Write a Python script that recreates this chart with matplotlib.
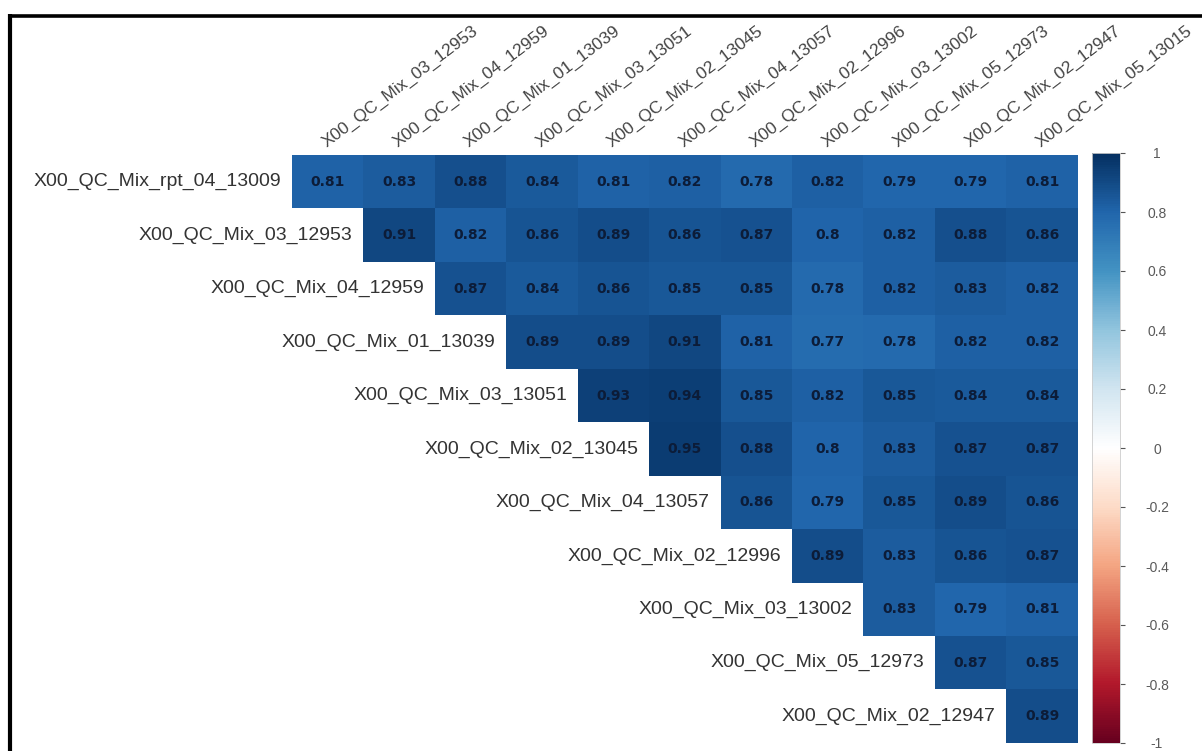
import numpy as np
import matplotlib.pyplot as plt
from matplotlib.colors import LinearSegmentedColormap
from matplotlib.lines import Line2D
from matplotlib.ticker import FuncFormatter

# sample names (rows top to bottom, columns left to right)
row_labels = [
    "X00_QC_Mix_rpt_04_13009", "X00_QC_Mix_03_12953", "X00_QC_Mix_04_12959",
    "X00_QC_Mix_01_13039", "X00_QC_Mix_03_13051", "X00_QC_Mix_02_13045",
    "X00_QC_Mix_04_13057", "X00_QC_Mix_02_12996", "X00_QC_Mix_03_13002",
    "X00_QC_Mix_05_12973", "X00_QC_Mix_02_12947",
]
col_labels = [
    "X00_QC_Mix_03_12953", "X00_QC_Mix_04_12959", "X00_QC_Mix_01_13039",
    "X00_QC_Mix_03_13051", "X00_QC_Mix_02_13045", "X00_QC_Mix_04_13057",
    "X00_QC_Mix_02_12996", "X00_QC_Mix_03_13002", "X00_QC_Mix_05_12973",
    "X00_QC_Mix_02_12947", "X00_QC_Mix_05_13015",
]

# upper triangle, row by row (each row starts on its own diagonal column)
r_rpt04_13009 = [0.81, 0.83, 0.88, 0.84, 0.81, 0.82, 0.78, 0.82, 0.79, 0.79, 0.81]
r_03_12953 = [0.91, 0.82, 0.86, 0.89, 0.86, 0.87, 0.80, 0.82, 0.88, 0.86]
r_04_12959 = [0.87, 0.84, 0.86, 0.85, 0.85, 0.78, 0.82, 0.83, 0.82]
r_01_13039 = [0.89, 0.89, 0.91, 0.81, 0.77, 0.78, 0.82, 0.82]
r_03_13051 = [0.93, 0.94, 0.85, 0.82, 0.85, 0.84, 0.84]
r_02_13045 = [0.95, 0.88, 0.80, 0.83, 0.87, 0.87]
r_04_13057 = [0.86, 0.79, 0.85, 0.89, 0.86]
r_02_12996 = [0.89, 0.83, 0.86, 0.87]
r_03_13002 = [0.83, 0.79, 0.81]
r_05_12973 = [0.87, 0.85]
r_02_12947 = [0.89]

cbar_ticks = [1, 0.8, 0.6, 0.4, 0.2, 0, -0.2, -0.4, -0.6, -0.8, -1]

rows = [r_rpt04_13009, r_03_12953, r_04_12959, r_01_13039, r_03_13051,
        r_02_13045, r_04_13057, r_02_12996, r_03_13002, r_05_12973, r_02_12947]

n = len(col_labels)
mat = np.full((len(rows), n), np.nan)
for i, vals in enumerate(rows):
    mat[i, i:i + len(vals)] = vals

# corrplot-style red-white-blue palette
cmap = LinearSegmentedColormap.from_list("col2", [
    "#67001F", "#B2182B", "#D6604D", "#F4A582", "#FDDBC7", "#FFFFFF",
    "#D1E5F0", "#92C5DE", "#4393C3", "#2166AC", "#053061"])

W, H = 1202, 751
fig = plt.figure(figsize=(W / 100, H / 100), dpi=100)

ax = fig.add_axes([292 / W, 8 / H, 786 / W, 588 / H])
im = ax.imshow(mat, cmap=cmap, vmin=-1, vmax=1, aspect='auto', interpolation='nearest')
ax.set_xlim(-0.5, n - 0.5)
ax.set_ylim(len(rows) - 0.5, -0.5)
ax.axis('off')

fam = ['Liberation Sans', 'DejaVu Sans']

for i, lab in enumerate(row_labels):
    ax.text(i - 0.5 - 0.15, i, lab, ha='right', va='center', color='#333333',
            family=fam, fontsize=14)
    for j in range(i, n):
        v = mat[i, j]
        ax.text(j, i, f"{v:g}", ha='center', va='center', color='#0c1c38',
                fontsize=10, fontweight='bold', family='DejaVu Sans')

for j, lab in enumerate(col_labels):
    ax.text(j - 0.02, -0.5 - 0.14, lab, ha='left', va='baseline', rotation=37,
            rotation_mode='anchor', color='#444444', clip_on=False,
            family=fam, fontsize=12.5)

# colour key on the right
cax = fig.add_axes([1092 / W, 8 / H, 28 / W, 590 / H])
cb = fig.colorbar(im, cax=cax, ticks=cbar_ticks)
cb.outline.set_edgecolor('#cccccc')
cb.outline.set_linewidth(0.6)
cax.yaxis.set_major_formatter(FuncFormatter(lambda v, p: f"{v:g}"))
cax.tick_params(axis='y', length=3.6, width=0.8, color='#555555', pad=23,
                labelsize=10, labelcolor='#5a5a5a')
for t in cax.get_yticklabels():
    t.set_horizontalalignment('center')
    t.set_family(fam)

# black frame along the top and left edges
fig.add_artist(Line2D([10 / W, 10 / W], [0, 1 - 14 / H], color='black', lw=3.0,
                      transform=fig.transFigure, solid_capstyle='butt'))
fig.add_artist(Line2D([8 / W, 1], [1 - 15.5 / H, 1 - 15.5 / H], color='black', lw=2.6,
                      transform=fig.transFigure, solid_capstyle='butt'))

fig.savefig('out.png', dpi=100)
